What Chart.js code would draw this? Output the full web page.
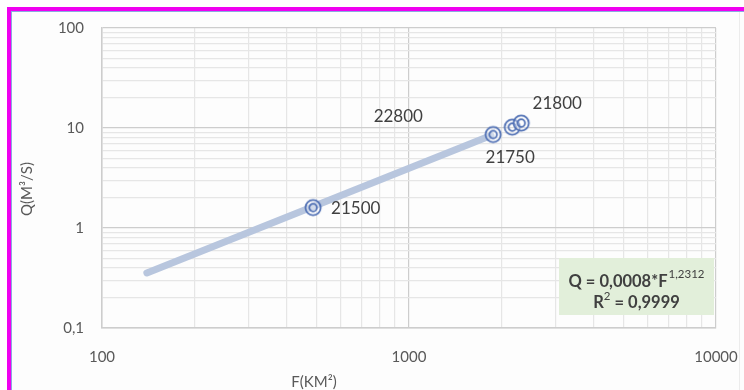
<!DOCTYPE html>
<html>
<head>
<meta charset="utf-8">
<script src="https://cdn.jsdelivr.net/npm/chart.js@4"></script>
<style>
  html, body { margin: 0; padding: 0; background: #ffffff; overflow: hidden; }
  #wrap { position: relative; width: 744px; height: 390px; overflow: hidden; background: #fdfdfd; }
  .bar { position: absolute; background: #f000f0; }
  #barTop { left: 7px; top: 7px; width: 737px; height: 4px; }
  #barLeft { left: 7px; top: 7px; width: 4px; height: 383px; }
  #lineTop { position: absolute; left: 11px; top: 11px; width: 733px; height: 1px; background: #8aaae0; }
  #lineLeft { position: absolute; left: 11px; top: 11px; width: 1px; height: 379px; background: #8aaae0; }
  #topBand { position: absolute; left: 0; top: 0; width: 744px; height: 7px; background: #ffffff; }
  #leftBand { position: absolute; left: 0; top: 0; width: 7px; height: 390px; background: #ffffff; }
  #rightEdge { position: absolute; left: 739px; top: 12px; width: 5px; height: 378px;
    background: #fdfdfd; border-left: 1px solid #ececec; z-index: 5; }
  canvas { position: absolute; left: 0; top: 0; }
</style>
</head>
<body>
<div id="wrap">
  <div id="topBand"></div>
  <div id="leftBand"></div>
  <div class="bar" id="barTop"></div>
  <div class="bar" id="barLeft"></div>
  <div id="lineTop"></div>
  <div id="lineLeft"></div>
  <canvas id="flowChart" width="744" height="390"></canvas>
  <div id="rightEdge"></div>
</div>
<script>
// площадь водосбора (км2) и расход (м3/с) по постам
const stations = ['21500', '21750', '22800', '21800'];
const areas = [487, 1880, 2170, 2320];
const flows = [1.6, 8.6, 10.2, 11.2];

// линия тренда (концы отрезка)
const trendAreas = [140, 1850];
const trendFlows = [0.355, 8.4];

const xTicks = [100, 200, 300, 400, 500, 600, 700, 800, 900,
  1000, 2000, 3000, 4000, 5000, 6000, 7000, 8000, 9000, 10000];
const yTicks = [0.1, 0.2, 0.3, 0.4, 0.5, 0.6, 0.7, 0.8, 0.9,
  1, 2, 3, 4, 5, 6, 7, 8, 9, 10, 20, 30, 40, 50, 60, 70, 80, 90, 100];
const xMajor = [100, 1000, 10000];
const yMajor = [0.1, 1, 10, 100];

const eqLine1 = ['Q = 0,0008*F', '1,2312'];
const eqLine2 = ['R', '2', ' = 0,9999'];

const FONT = 'Lato, "Liberation Sans", sans-serif';
const TEXT = '#595959';

// маркер: двойной круг
function makeMarker() {
  const c = document.createElement('canvas');
  c.width = 20; c.height = 20;
  const g = c.getContext('2d');
  g.strokeStyle = '#5070b4';
  g.lineWidth = 1.8;
  g.fillStyle = 'rgba(255,255,255,0.35)';
  g.beginPath(); g.arc(10, 10, 7.6, 0, Math.PI * 2); g.fill(); g.stroke();
  g.beginPath(); g.arc(10, 10, 3.8, 0, Math.PI * 2); g.stroke();
  return c;
}

// подписи постов: смещение от точки
const labelOffsets = [[18, 1, 'left'], [17, 23, 'center'], [-114, -11, 'center'], [36, -20, 'center']];

const labelsPlugin = {
  id: 'stationLabels',
  afterDatasetsDraw(chart) {
    const ctx = chart.ctx;
    const meta = chart.getDatasetMeta(1);
    ctx.save();
    ctx.font = '17px ' + FONT;
    ctx.fillStyle = '#404040';
    ctx.textBaseline = 'middle';
    meta.data.forEach((pt, i) => {
      const o = labelOffsets[i];
      ctx.textAlign = o[2];
      ctx.fillText(stations[i], pt.x + o[0], pt.y + o[1]);
    });
    ctx.restore();
  }
};

// подписи осей и уравнение тренда
const extrasPlugin = {
  id: 'extras',
  afterDraw(chart) {
    const ctx = chart.ctx;
    ctx.save();
    ctx.fillStyle = TEXT;
    ctx.font = '15px ' + FONT;
    ctx.textBaseline = 'middle';
    // ось Y
    ctx.save();
    ctx.translate(27, 189);
    ctx.rotate(-Math.PI / 2);
    ctx.textAlign = 'center';
    ctx.fillText('Q(M³/S)', 0, 0);
    ctx.restore();
    // ось X
    ctx.textAlign = 'center';
    ctx.fillText('F(KM²)', 314, 382);

    // уравнение
    const a = chart.chartArea;
    const bx = a.right - 157, by = 258, bw = 155, bh = 57;
    ctx.fillStyle = '#e2efda';
    ctx.fillRect(bx, by, bw, bh);
    ctx.fillStyle = '#404040';
    ctx.textAlign = 'left';
    ctx.textBaseline = 'alphabetic';
    const big = 'bold 16.5px ' + FONT, small = '11.5px ' + FONT;
    ctx.font = big;
    let w1 = ctx.measureText(eqLine1[0]).width;
    ctx.font = small;
    let w1s = ctx.measureText(eqLine1[1]).width;
    let x1 = bx + (bw - w1 - w1s - 1) / 2;
    ctx.font = big;
    ctx.fillText(eqLine1[0], x1, by + 29);
    ctx.font = small;
    ctx.fillText(eqLine1[1], x1 + w1 + 1, by + 20);
    ctx.font = big;
    let wr = ctx.measureText(eqLine2[0]).width;
    let wt = ctx.measureText(eqLine2[2]).width;
    ctx.font = small;
    let ws = ctx.measureText(eqLine2[1]).width;
    let x2 = bx + (bw - wr - ws - wt) / 2;
    ctx.font = big;
    ctx.fillText(eqLine2[0], x2, by + 50);
    ctx.font = small;
    ctx.fillText(eqLine2[1], x2 + wr, by + 42);
    ctx.font = big;
    ctx.fillText(eqLine2[2], x2 + wr + ws, by + 50);
    ctx.restore();
  }
};

function gridColor(major) {
  return (c) => {
    const v = c.tick && c.tick.value;
    return major.some(m => Math.abs(m - v) < 1e-9) ? '#cdcdcd' : '#e6e6e6';
  };
}

function fmt(v) {
  return String(v).replace('.', ',');
}

new Chart(document.getElementById('flowChart').getContext('2d'), {
  type: 'scatter',
  data: {
    datasets: [
      {
        label: 'trend',
        data: trendAreas.map((f, i) => ({ x: f, y: trendFlows[i] })),
        showLine: true,
        borderColor: '#b8c6de',
        borderWidth: 7,
        borderCapStyle: 'round',
        pointRadius: 0,
        order: 2
      },
      {
        label: 'Q',
        data: areas.map((f, i) => ({ x: f, y: flows[i] })),
        pointStyle: makeMarker(),
        order: 1
      }
    ]
  },
  options: {
    responsive: false,
    animation: false,
    layout: { padding: { left: 0, top: 28, right: 28, bottom: 0 } },
    plugins: { legend: { display: false }, tooltip: { enabled: false } },
    scales: {
      x: {
        type: 'logarithmic',
        min: 100, max: 10000,
        afterBuildTicks: (s) => { s.ticks = xTicks.map(v => ({ value: v })); },
        afterFit: (s) => { s.height = 62; s.paddingLeft = 0; s.paddingRight = 0; },
        border: { color: '#cdcdcd', width: 1.5 },
        grid: { color: gridColor(xMajor), lineWidth: 1.2, drawTicks: false },
        ticks: {
          autoSkip: false, maxRotation: 0, padding: 20,
          color: TEXT, font: { family: FONT, size: 15 },
          callback: (v) => xMajor.includes(v) ? String(v) : ''
        }
      },
      y: {
        type: 'logarithmic',
        min: 0.1, max: 100,
        afterBuildTicks: (s) => { s.ticks = yTicks.map(v => ({ value: v })); },
        afterFit: (s) => { s.width = 102; s.paddingTop = 0; s.paddingBottom = 0; },
        border: { color: '#cdcdcd', width: 1.5 },
        grid: { color: gridColor(yMajor), lineWidth: 1.2, drawTicks: false },
        ticks: {
          autoSkip: false, padding: 18,
          color: TEXT, font: { family: FONT, size: 15 },
          callback: (v) => yMajor.some(m => Math.abs(m - v) < 1e-9) ? fmt(v) : ''
        }
      }
    }
  },
  plugins: [labelsPlugin, extrasPlugin]
});
</script>
</body>
</html>
